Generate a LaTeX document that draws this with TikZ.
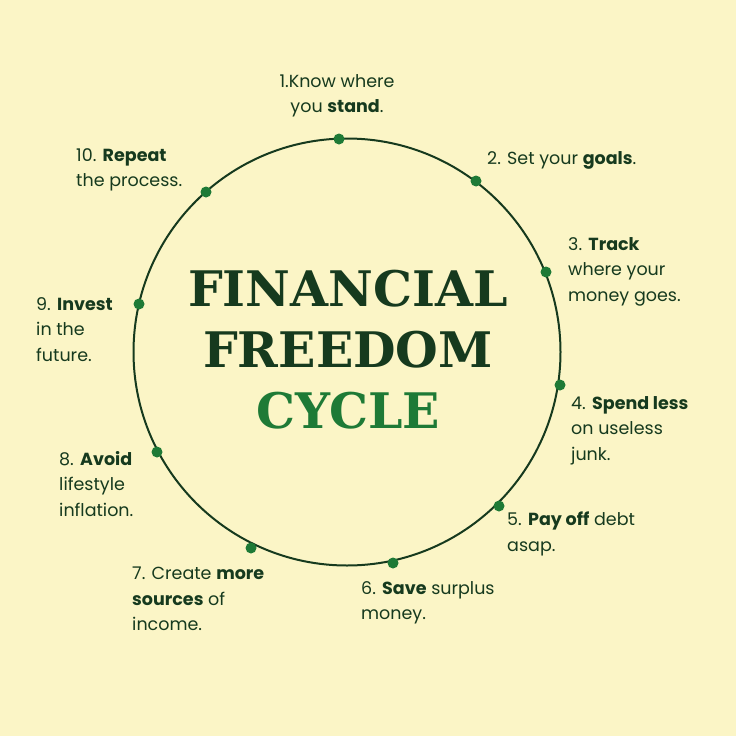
\documentclass[tikz,border=0pt]{standalone}
\usepackage{fontspec}
\setmainfont{Poppins}
\newfontfamily\titlefont{DejaVu Serif}
\definecolor{bg}{HTML}{FBF5C6}
\definecolor{dk}{HTML}{163A1E}
\definecolor{gr}{HTML}{1E7A36}
\begin{document}
\begin{tikzpicture}[x=1pt,y=-1pt,
  lbl/.style={anchor=north west,align=left,text=dk,inner sep=0pt,font=\fontsize{17.5}{25.5}\selectfont},
  dot/.style={circle,fill=gr,inner sep=0pt,minimum size=11pt},
  ttl/.style={font=\titlefont\bfseries\fontsize{49}{49}\selectfont,text=dk}]
\fill[bg] (0,0) rectangle (736,736);
\useasboundingbox (0,0) rectangle (736,736);
\draw[dk,line width=2pt] (347,352) circle (213.5);
\foreach \n/\x/\y in {1/339/139,2/476/181,3/546/272,4/560/385,5/499/506,6/393/563,7/251/548,8/157/452,9/139/304,10/206/192}
  \node[dot] (d\n) at (\x,\y) {};
\node[ttl] (t1) at (348,289) {FINANCIAL};
\node[ttl] (t2) at (348,350) {FREEDOM};
\node[ttl,text=gr] (t3) at (348,411) {CYCLE};
\node[lbl,anchor=north,align=center] (l1) at (337,74) {1.Know where\\you \textbf{stand}.};
\node[lbl] (l2) at (487,151) {2. Set your \textbf{goals}.};
\node[lbl] (l3) at (568,237) {3. \textbf{Track}\\where your\\money goes.};
\node[lbl] (l4) at (571,396) {4. \textbf{Spend less}\\on useless\\junk.};
\node[lbl] (l5) at (507,512) {5. \textbf{Pay off} debt\\asap.};
\node[lbl] (l6) at (361,581) {6. \textbf{Save} surplus\\money.};
\node[lbl] (l7) at (132,567) {7. Create \textbf{more}\\\textbf{sources} of\\income.};
\node[lbl] (l8) at (59,451) {8. \textbf{Avoid}\\lifestyle\\inflation.};
\node[lbl] (l9) at (36,297) {9. \textbf{Invest}\\in the\\future.};
\node[lbl] (l10) at (76,148) {10. \textbf{Repeat}\\the process.};
\end{tikzpicture}
\end{document}
